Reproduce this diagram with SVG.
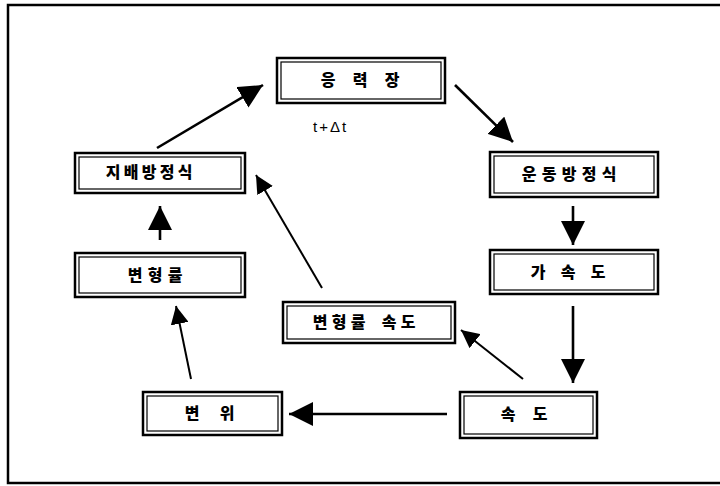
<svg xmlns="http://www.w3.org/2000/svg" width="720" height="486" viewBox="0 0 720 486">
  <style>
    .frame { fill: none; stroke: #000; stroke-width: 2.5; }
    .box-outer { fill: #fff; stroke: #000; stroke-width: 2.5; }
    .box-inner { fill: none; stroke: #000; stroke-width: 1.2; }
    .label { font-family: "Noto Sans CJK KR", "Noto Sans", sans-serif; font-size: 16px; font-weight: 900; fill: #000; text-anchor: middle; }
    .note { font-family: "Liberation Sans", "DejaVu Sans", sans-serif; font-size: 15px; fill: #000; letter-spacing: 2px; }
    .edge { fill: none; stroke: #000; stroke-width: 2.6; }
    .edge-thin { fill: none; stroke: #000; stroke-width: 2; }
  </style>
  <defs>
    <marker id="head" markerUnits="userSpaceOnUse" markerWidth="26" markerHeight="24" refX="24" refY="12" orient="auto">
      <path d="M0,0 L24,12 L0,24 Z" fill="#000"/>
    </marker>
    <marker id="head-small" markerUnits="userSpaceOnUse" markerWidth="20" markerHeight="18" refX="18" refY="9" orient="auto">
      <path d="M0,0 L18,9 L0,18 Z" fill="#000"/>
    </marker>
  </defs>

  <rect class="frame" x="8" y="5" width="716" height="478"/>

  <g id="connectors">
    <line class="edge" x1="157" y1="148" x2="263" y2="85" marker-end="url(#head)"/>
    <line class="edge" x1="455" y1="85" x2="513" y2="142" marker-end="url(#head)"/>
    <line class="edge" x1="573" y1="206" x2="573" y2="245" marker-end="url(#head)"/>
    <line class="edge" x1="573" y1="306" x2="573" y2="383" marker-end="url(#head)"/>
    <line class="edge" x1="447" y1="414" x2="289" y2="414" marker-end="url(#head)"/>
    <line class="edge-thin" x1="191" y1="379" x2="176" y2="306" marker-end="url(#head-small)"/>
    <line class="edge" x1="160" y1="240" x2="160" y2="206" marker-end="url(#head)"/>
    <line class="edge-thin" x1="523" y1="379" x2="461" y2="330" marker-end="url(#head-small)"/>
    <line class="edge-thin" x1="322" y1="288" x2="256" y2="175" marker-end="url(#head-small)"/>
  </g>

  <g id="stress-field">
    <rect class="box-outer" x="277" y="58" width="168" height="45"/>
    <rect class="box-inner" x="281" y="62" width="160" height="37"/>
    <text class="label" x="328 360 392" y="86">응력장</text>
  </g>
  <text class="note" x="313" y="132">t+Δt</text>

  <g id="equation-of-motion">
    <rect class="box-outer" x="490" y="152" width="168" height="45"/>
    <rect class="box-inner" x="494" y="156" width="160" height="37"/>
    <text class="label" x="529 549 569 589 609" y="180">운동방정식</text>
  </g>

  <g id="acceleration">
    <rect class="box-outer" x="490" y="250" width="168" height="44"/>
    <rect class="box-inner" x="494" y="254" width="160" height="36"/>
    <text class="label" x="538 568 598" y="278">가속도</text>
  </g>

  <g id="velocity">
    <rect class="box-outer" x="460" y="392" width="137" height="46"/>
    <rect class="box-inner" x="464" y="396" width="129" height="38"/>
    <text class="label" x="508 540" y="420">속도</text>
  </g>

  <g id="displacement">
    <rect class="box-outer" x="143" y="392" width="139" height="43"/>
    <rect class="box-inner" x="147" y="396" width="131" height="35"/>
    <text class="label" x="192 227" y="419">변위</text>
  </g>

  <g id="strain">
    <rect class="box-outer" x="75" y="253" width="170" height="44"/>
    <rect class="box-inner" x="79" y="257" width="162" height="36"/>
    <text class="label" x="135 155 175" y="281">변형률</text>
  </g>

  <g id="strain-rate">
    <rect class="box-outer" x="283" y="302" width="172" height="41"/>
    <rect class="box-inner" x="287" y="306" width="164" height="33"/>
    <text class="label" x="320 339 358 373 389 408" y="328">변형률 속도</text>
  </g>

  <g id="governing-equation">
    <rect class="box-outer" x="75" y="153" width="170" height="40"/>
    <rect class="box-inner" x="79" y="157" width="162" height="32"/>
    <text class="label" x="113 131 149 167 185" y="178">지배방정식</text>
  </g>
</svg>
